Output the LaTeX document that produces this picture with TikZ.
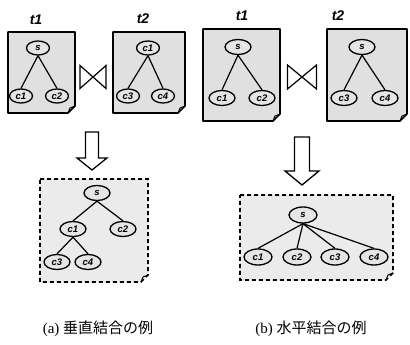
\documentclass[tikz,border=0pt]{standalone}
\usepackage{fontspec}
\setmainfont{Liberation Serif}
\newfontfamily\lab{Liberation Sans}
\newfontfamily\cjk{Noto Sans CJK JP}
\usetikzlibrary{shapes.geometric}
\begin{document}
\begin{tikzpicture}[x=1pt,y=-1pt,
  doc/.style={draw=black,line width=1.7pt,fill=black!12,line join=round},
  resdoc/.style={draw=black,line width=1.7pt,fill=black!8,dash pattern=on 4pt off 3pt},
  elem/.style={ellipse,draw=black,line width=1.3pt,fill=black!10,inner sep=0pt,
     font=\lab\itshape\bfseries\fontsize{9.5}{9.5}\selectfont},
  sm/.style={elem,minimum width=23pt,minimum height=14pt},
  md/.style={elem,minimum width=26pt,minimum height=15pt},
  lg/.style={elem,minimum width=28pt,minimum height=16pt},
  edge/.style={draw=black,line width=1.2pt},
  tlabel/.style={font=\lab\itshape\bfseries\fontsize{14}{14}\selectfont},
  bow/.style={draw=black,line width=1.2pt,fill=white},
  blk/.style={draw=black,line width=1.3pt,fill=white,line join=miter},
  captext/.style={font=\fontsize{15}{15}\selectfont}
]
\useasboundingbox (0,0) rectangle (410,345);
\fill[white] (0,0) rectangle (410,345);

% ---------- documents (folded corner bottom right) ----------
\def\docbox#1#2#3#4#5{%
  \path[#5] (#1,#2) -- (#3,#2) -- (#3,#4-7) -- (#3-7,#4) -- (#1,#4) -- cycle;
  \draw[line width=1pt] (#3,#4-7) -- (#3-5,#4-5) -- (#3-7,#4);}
\docbox{8}{32}{75}{113}{doc}
\docbox{113}{32}{185}{113}{doc}
\docbox{203}{29}{280}{121}{doc}
\docbox{327}{29}{407}{121}{doc}
\docbox{40}{179}{148}{282}{resdoc}
\docbox{240}{195}{393}{280}{resdoc}

% ---------- labels ----------
\node[tlabel] (la1) at (36,20) {t1};
\node[tlabel] (la2) at (143,19) {t2};
\node[tlabel] (lb1) at (242,16) {t1};
\node[tlabel] (lb2) at (338,16) {t2};

% ---------- (a) t1 ----------
\node[sm] (a1s) at (38,48) {s};
\node[sm] (a1c1) at (21,96) {c1};
\node[sm] (a1c2) at (57,96) {c2};
\draw[edge] (a1s.south) -- (a1c1.north);
\draw[edge] (a1s.south) -- (a1c2.north);
% ---------- (a) t2 ----------
\node[sm] (a2c1) at (148,48) {c1};
\node[sm] (a2c3) at (128,96) {c3};
\node[sm] (a2c4) at (163,96) {c4};
\draw[edge] (a2c1.south) -- (a2c3.north);
\draw[edge] (a2c1.south) -- (a2c4.north);
% ---------- (b) t1 ----------
\node[md] (b1s) at (238,47) {s};
\node[md] (b1c1) at (222,98) {c1};
\node[md] (b1c2) at (262,98) {c2};
\draw[edge] (b1s.south) -- (b1c1.north);
\draw[edge] (b1s.south) -- (b1c2.north);
% ---------- (b) t2 ----------
\node[md] (b2s) at (362,47) {s};
\node[md] (b2c3) at (344,98) {c3};
\node[md] (b2c4) at (385,98) {c4};
\draw[edge] (b2s.south) -- (b2c3.north);
\draw[edge] (b2s.south) -- (b2c4.north);

% ---------- bowties ----------
\coordinate (bowa) at (93,77);
\coordinate (bowb) at (302,77);
\draw[bow] ([shift={(-13,-11.5)}]bowa) -- ([shift={(13,11.5)}]bowa) -- ([shift={(13,-11.5)}]bowa) -- ([shift={(-13,11.5)}]bowa) -- cycle;
\draw[bow] ([shift={(-14.5,-12)}]bowb) -- ([shift={(14.5,12)}]bowb) -- ([shift={(14.5,-12)}]bowb) -- ([shift={(-14.5,12)}]bowb) -- cycle;

% ---------- block arrows ----------
\coordinate (arra) at (92,132);
\draw[blk] ([shift={(-6.5,0)}]arra) -- ([shift={(6.5,0)}]arra) -- ([shift={(6.5,26)}]arra) -- ([shift={(15,26)}]arra) -- ([shift={(0,38)}]arra) -- ([shift={(-15,26)}]arra) -- ([shift={(-6.5,26)}]arra) -- cycle;
\coordinate (arrb) at (302,137);
\draw[blk] ([shift={(-7.5,0)}]arrb) -- ([shift={(7.5,0)}]arrb) -- ([shift={(7.5,34)}]arrb) -- ([shift={(17,34)}]arrb) -- ([shift={(0,48)}]arrb) -- ([shift={(-17,34)}]arrb) -- ([shift={(-7.5,34)}]arrb) -- cycle;

% ---------- result (a) ----------
\node[md] (ras) at (97,193) {s};
\node[md] (rac1) at (73,229) {c1};
\node[md] (rac2) at (123,229) {c2};
\node[md] (rac3) at (57,262) {c3};
\node[md] (rac4) at (88,262) {c4};
\draw[edge] (ras.south) -- (rac1.north);
\draw[edge] (ras.south) -- (rac2.north);
\draw[edge] (rac1.south) -- (rac3.north);
\draw[edge] (rac1.south) -- (rac4.north);

% ---------- result (b) ----------
\node[lg] (rbs) at (303,215) {s};
\node[lg] (rbc1) at (258,257) {c1};
\node[lg] (rbc2) at (297,257) {c2};
\node[lg] (rbc3) at (335,257) {c3};
\node[lg] (rbc4) at (374,257) {c4};
\foreach \c in {rbc1,rbc2,rbc3,rbc4} \draw[edge] (rbs.south) -- (\c.north);

% ---------- captions ----------
\node[captext] (capa) at (98,329) {(a) {\cjk 垂直結合の例}};
\node[captext] (capb) at (311,329) {(b) {\cjk 水平結合の例}};
\end{tikzpicture}
\end{document}
